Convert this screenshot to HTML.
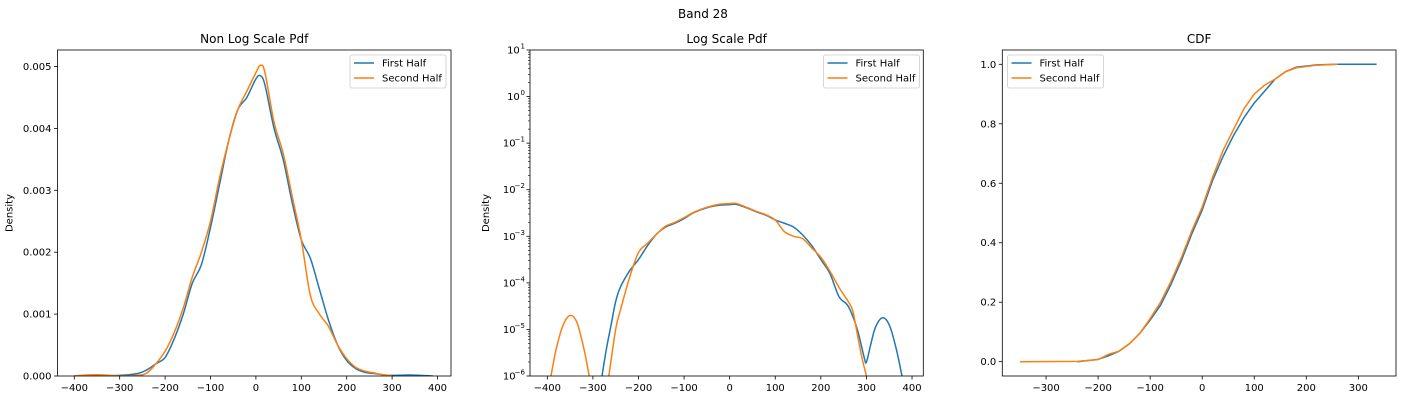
<!DOCTYPE html>
<html><head><meta charset="utf-8">
<style>
html,body{margin:0;padding:0;background:#fff;}
svg{display:block;font-family:"DejaVu Sans","Liberation Sans",sans-serif;}
</style></head>
<body>
<svg id="fig" width="1403" height="400" viewBox="0 0 1403 400">
<text x="703" y="18" font-size="12" text-anchor="middle" fill="#000">Band 28</text>
</svg>
<script>
// ---- Panel 1 data (linear pdf) ----
const pdfX1 = [-400,-300,-260,-240,-220,-200,-180,-160,-140,-120,-100,-80,-60,-40,-20,0,10,20,40,60,80,100,120,140,160,180,200,220,240,260,280,300,340,390];
const pdfFirst = [0,0.00001,0.00004,0.0001,0.0002,0.0003,0.0006,0.001,0.0015,0.0018,0.0024,0.0031,0.0038,0.0043,0.0045,0.0048,0.00485,0.0047,0.004,0.0035,0.0028,0.0022,0.0019,0.0014,0.0009,0.0005,0.00025,0.00012,0.00006,0.00004,0.00002,0.00001,0.000017,0];
const pdfX2 = [-400,-350,-300,-260,-240,-220,-200,-180,-160,-140,-120,-100,-80,-60,-40,-20,0,10,20,40,60,80,100,120,140,160,180,200,220,240,260,280,300];
const pdfSecond = [0.000005,0.00002,0.000001,0.00001,0.00005,0.0002,0.0004,0.0007,0.0011,0.0016,0.002,0.0025,0.0032,0.0038,0.0043,0.0046,0.0049,0.00502,0.0049,0.0041,0.0036,0.0029,0.0022,0.0013,0.001,0.0008,0.0005,0.00028,0.00014,0.00008,0.00005,0.00002,0.000001];
const linYTicks = [0,0.001,0.002,0.003,0.004,0.005];
const linYLabels = ["0.000","0.001","0.002","0.003","0.004","0.005"];
const xTicks1 = [-400,-300,-200,-100,0,100,200,300,400];

// ---- Panel 2 data (log10 of pdf) ----
const logX1 = [-280,-270,-260,-250,-240,-220,-200,-180,-160,-140,-120,-100,-80,-60,-40,-20,0,10,20,40,60,80,100,120,140,160,180,200,220,240,260,280,295,300,310,320,335,350,365,378];
const logFirst = [-6,-5.4,-4.9,-4.4,-4.1,-3.75,-3.5,-3.2,-2.95,-2.8,-2.72,-2.62,-2.5,-2.42,-2.36,-2.33,-2.32,-2.31,-2.33,-2.4,-2.48,-2.55,-2.65,-2.72,-2.8,-2.97,-3.2,-3.5,-3.8,-4.3,-4.5,-5,-5.6,-5.7,-5.3,-4.95,-4.75,-4.9,-5.4,-6];
const logX2a = [-392,-380,-365,-350,-335,-320,-308];
const logSecondA = [-6,-5.4,-4.9,-4.7,-4.85,-5.4,-6];
const logX2b = [-265,-250,-240,-220,-200,-180,-160,-140,-120,-100,-80,-60,-40,-20,0,10,20,40,60,80,100,120,140,160,180,200,220,240,260,270,280,290,300];
const logSecondB = [-6,-5,-4.6,-3.9,-3.35,-3.15,-2.95,-2.78,-2.7,-2.6,-2.49,-2.41,-2.35,-2.31,-2.3,-2.29,-2.31,-2.39,-2.47,-2.54,-2.65,-2.9,-3.0,-3.05,-3.25,-3.45,-3.75,-4.1,-4.4,-4.6,-5.1,-5.6,-6];
const logYTicks = [1,0,-1,-2,-3,-4,-5,-6];

// ---- Panel 3 data (CDF) ----
const cdfX1 = [-240,-200,-180,-160,-140,-120,-100,-80,-60,-40,-20,0,20,40,60,80,100,120,140,160,180,220,260,335];
const cdfFirst = [0,0.008,0.02,0.035,0.06,0.095,0.14,0.19,0.26,0.34,0.43,0.51,0.61,0.69,0.76,0.82,0.87,0.91,0.95,0.975,0.99,0.998,1,1];
const cdfX2 = [-350,-240,-200,-180,-160,-140,-120,-100,-80,-60,-40,-20,0,20,40,60,80,100,110,120,140,160,180,220,260];
const cdfSecond = [0,0.001,0.007,0.025,0.035,0.06,0.095,0.145,0.2,0.27,0.35,0.44,0.52,0.62,0.71,0.78,0.85,0.9,0.915,0.93,0.95,0.975,0.988,0.997,1];
const cdfYTicks = [0,0.2,0.4,0.6,0.8,1.0];
const cdfYLabels = ["0.0","0.2","0.4","0.6","0.8","1.0"];
const xTicks3 = [-300,-200,-100,0,100,200,300];

const NS = "http://www.w3.org/2000/svg";
const fig = document.getElementById('fig');
const BLUE = "#1f77b4", ORANGE = "#ff7f0e";
function mk(tag, attrs, parent){ const e=document.createElementNS(NS,tag); for(const k in attrs) e.setAttribute(k,attrs[k]); (parent||fig).appendChild(e); return e; }
function fmt(v){ return v<0 ? "\u2212"+Math.abs(v) : String(v); }
function smoothPath(pts){
  let d = "M"+pts[0][0].toFixed(2)+" "+pts[0][1].toFixed(2);
  for(let i=0;i<pts.length-1;i++){
    const p0=pts[Math.max(0,i-1)], p1=pts[i], p2=pts[i+1], p3=pts[Math.min(pts.length-1,i+2)];
    const c1=[p1[0]+(p2[0]-p0[0])/6, p1[1]+(p2[1]-p0[1])/6];
    const c2=[p2[0]-(p3[0]-p1[0])/6, p2[1]-(p3[1]-p1[1])/6];
    d += "C"+c1[0].toFixed(2)+" "+c1[1].toFixed(2)+" "+c2[0].toFixed(2)+" "+c2[1].toFixed(2)+" "+p2[0].toFixed(2)+" "+p2[1].toFixed(2);
  }
  return d;
}

function panel(p){
  const g = mk('g',{});
  
  
  const sx = v => p.x0 + (v - p.xv0) * p.xs;
  const sy = p.sy;
  const cid = p.name + '-clip';
  const cp = mk('clipPath',{id:cid}, g);
  mk('rect',{x:p.L,y:p.T,width:p.R-p.L,height:p.B-p.T}, cp);
  p.series.forEach(s=>{
    const pts = s.x.map((xv,i)=>[sx(xv), sy(s.y[i])]);
    let d;
    if(p.smooth) d = smoothPath(pts);
    else { d=""; pts.forEach((q,i)=>{ d += (i?"L":"M")+q[0].toFixed(2)+" "+q[1].toFixed(2); }); }
    const path = mk('path',{d:d, fill:"none", stroke:s.color, "stroke-width":1.5, "stroke-linejoin":"round", "clip-path":"url(#"+cid+")"}, g);
    
    
  });
  const fr = mk('rect',{x:p.L,y:p.T,width:p.R-p.L,height:p.B-p.T,fill:"none",stroke:"#000","stroke-width":0.8}, g);
  
  
  p.xticks.forEach(t=>{
    const X = sx(t);
    mk('line',{x1:X,x2:X,y1:p.B,y2:p.B+3.5,stroke:"#000","stroke-width":0.8}, g);
    const tx = mk('text',{x:X,y:p.B+15,"font-size":10,"text-anchor":"middle",fill:"#000"}, g);
    tx.textContent = fmt(t);
    
    
  });
  p.yticks.forEach((t,i)=>{
    const Y = sy(t);
    mk('line',{x1:p.L-3.5,x2:p.L,y1:Y,y2:Y,stroke:"#000","stroke-width":0.8}, g);
    const tx = mk('text',{x:p.L-6,y:Y+3.5,"font-size":10,"text-anchor":"end",fill:"#000"}, g);
    if(p.logLabels){
      tx.textContent = "10";
      tx.setAttribute('x', p.L-6 - (String(fmt(t)).length*4.2));
      const sup = mk('text',{x:p.L-5,y:Y-1.5,"font-size":7,"text-anchor":"end",fill:"#000"}, g);
      sup.textContent = fmt(t);
      
      
    } else {
      tx.textContent = p.ylabels[i];
    }
    
    
    if(p.logLabels && i < p.yticks.length-1){
      for(let m=2;m<=9;m++){
        const Ym = sy(t - 1 + Math.log10(m));
        mk('line',{x1:p.L-2,x2:p.L,y1:Ym,y2:Ym,stroke:"#000","stroke-width":0.6}, g);
      }
    }
  });
  const ti = mk('text',{x:(p.L+p.R)/2,y:p.T-7,"font-size":12,"text-anchor":"middle",fill:"#000"}, g);
  ti.textContent = p.title;
  
  
  if(p.ylabel){
    const yl = mk('text',{x:0,y:0,"font-size":10,"text-anchor":"middle",fill:"#000",transform:"translate("+(p.L-p.ylabelOff)+","+((p.T+p.B)/2)+") rotate(-90)"}, g);
    yl.textContent = p.ylabel;
    
    
  }
  const lg = mk('g',{}, g);
  
  
  mk('rect',{x:p.legX,y:55,width:96,height:33,rx:2,fill:"#fff","fill-opacity":0.8,stroke:"#ccc","stroke-width":0.8}, lg);
  [["First Half",BLUE],["Second Half",ORANGE]].forEach((e,i)=>{
    const ey = 63 + i*15;
    const en = mk('g',{}, lg);
    
    
    mk('line',{x1:p.legX+4,x2:p.legX+24,y1:ey,y2:ey,stroke:e[1],"stroke-width":1.5}, en);
    const t = mk('text',{x:p.legX+32,y:ey+3.5,"font-size":10,fill:"#000"}, en);
    t.textContent = e[0];
  });
}

panel({name:"non-log-pdf-panel", title:"Non Log Scale Pdf", L:57.5,R:451,T:50,B:376,
  x0:74.3, xv0:-400, xs:0.454, smooth:true,
  sy: v => 376 - v*61900,
  xticks:xTicks1, yticks:linYTicks, ylabels:linYLabels, ylabel:"Density", ylabelOff:45,
  legX:350,
  series:[{name:"first-half-line",color:BLUE,x:pdfX1,y:pdfFirst},{name:"second-half-line",color:ORANGE,x:pdfX2,y:pdfSecond}]});
panel({name:"log-pdf-panel", title:"Log Scale Pdf", L:530,R:923.3,T:50,B:376,
  x0:547.3, xv0:-400, xs:0.4559, smooth:true,
  sy: v => 50 + (1 - v)*46.57,
  xticks:xTicks1, yticks:logYTicks, logLabels:true, ylabel:"Density", ylabelOff:41,
  legX:823.5,
  series:[{name:"first-half-line",color:BLUE,x:logX1,y:logFirst},
          {name:"second-half-left-bump",color:ORANGE,x:logX2a,y:logSecondA},
          {name:"second-half-line",color:ORANGE,x:logX2b,y:logSecondB}]});
panel({name:"cdf-panel", title:"CDF", L:1002.3,R:1396,T:50,B:376,
  x0:1202.2, xv0:0, xs:0.5205, smooth:false,
  sy: v => 361.7 - v*297.4,
  xticks:xTicks3, yticks:cdfYTicks, ylabels:cdfYLabels,
  legX:1007.5,
  series:[{name:"first-half-cdf",color:BLUE,x:cdfX1,y:cdfFirst},{name:"second-half-cdf",color:ORANGE,x:cdfX2,y:cdfSecond}]});
</script>
</body></html>
